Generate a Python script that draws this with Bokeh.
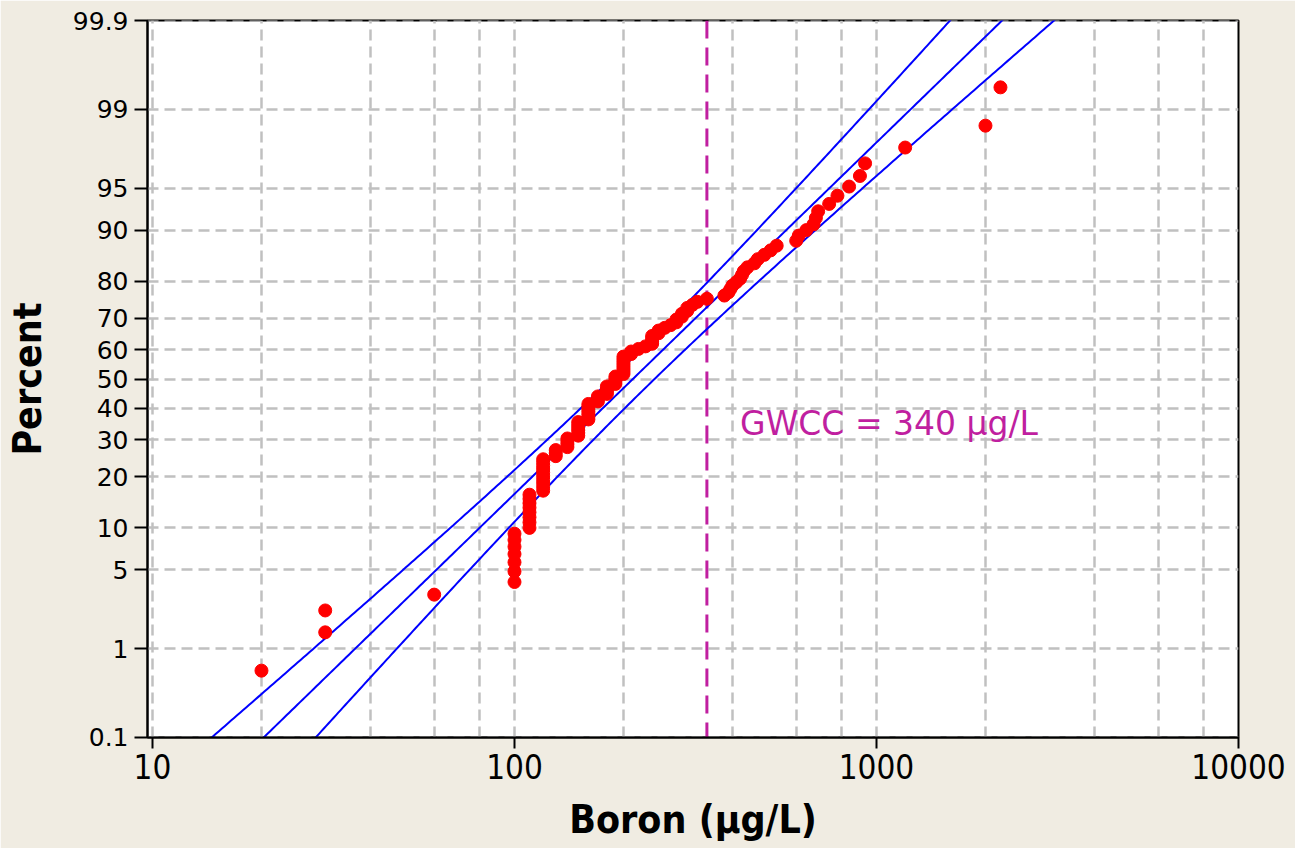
from statistics import NormalDist
import numpy as np
from bokeh.plotting import figure
from bokeh.models import (Range1d, FixedTicker, CustomJSTickFormatter,
                          PrintfTickFormatter, Span, Label, ColumnDataSource)
from bokeh.embed import file_html
from bokeh.resources import INLINE

# ---- data (sorted boron concentrations, ug/L) ----
boron_ugL = [
    20, 30, 30, 60,
    100, 100, 100, 100, 100, 100, 100,
    110, 110, 110, 110, 110, 110, 110, 110,
    120, 120, 120, 120, 120, 120, 120, 120, 120, 120,
    130, 130, 130,
    140, 140, 140, 140,
    150, 150, 150, 150, 150, 150,
    160, 160, 160, 160, 160, 160, 160,
    170, 170, 170,
    180, 180, 180, 180,
    190, 190, 190, 190,
    200, 200, 200, 200, 200, 200, 200, 200,
    210, 210, 220, 230,
    240, 240, 240, 240,
    250, 250, 260, 270, 280, 280, 290, 290,
    300, 300, 310, 320, 340,
    380, 390, 395, 400, 410, 420, 425, 430, 440, 460, 470, 490, 510, 530,
    600, 610, 640, 670, 680, 690, 740, 780, 840, 900, 930,
    1200, 2000, 2200,
]

pct_ticks = [0.1, 1, 5, 10, 20, 30, 40, 50, 60, 70, 80, 90, 95, 99, 99.9]
pct_tick_labels = ["0.1", "1", "5", "10", "20", "30", "40", "50", "60",
                   "70", "80", "90", "95", "99", "99.9"]
x_ticks = [10, 100, 1000, 10000]
x_grid_values = [10, 20, 40, 60, 80, 100, 200, 400, 600, 800, 1000,
                 2000, 4000, 6000, 8000, 10000]

gwcc_value = 340
gwcc_text = "GWCC = 340 µg/L"
gwcc_label_x = 420
gwcc_label_pct = 35.0

# lognormal fit (log10 scale)
fit_mu_log10 = 2.327
fit_sigma_log10 = 0.330
conf_level = 0.95

NARROW = "DejaVu Sans Condensed, Liberation Sans Narrow, Roboto"

# ---- transforms ----
nd = NormalDist()
n = len(boron_ugL)
ranks = np.arange(1, n + 1)
pct_points = (ranks - 0.3) / (n + 0.4) * 100.0          # median ranks
z_points = [nd.inv_cdf(q / 100.0) for q in pct_points]
z_ticks = [nd.inv_cdf(q / 100.0) for q in pct_ticks]
z_min, z_max = nd.inv_cdf(0.001) - 0.0005, nd.inv_cdf(0.999) + 0.0005

z_line = np.linspace(-3.4, 3.4, 300)
zc = nd.inv_cdf(0.5 + conf_level / 2)
center = fit_mu_log10 + z_line * fit_sigma_log10
half = zc * fit_sigma_log10 * np.sqrt((1 + z_line ** 2 / 2) / n)

p = figure(width=1295, height=848, x_axis_type="log",
           x_range=Range1d(9.687, 10000), y_range=Range1d(z_min, z_max),
           output_backend="svg", toolbar_location=None,
           min_border_left=147, min_border_right=57,
           min_border_top=20, min_border_bottom=111,
           border_fill_color="#F0ECE2", background_fill_color="white",
           outline_line_color="black", outline_line_width=2)

grid_color = "#C0C0C0"
p.xgrid.ticker = FixedTicker(ticks=x_grid_values)
p.ygrid.ticker = FixedTicker(ticks=z_ticks)
for g in (p.xgrid, p.ygrid):
    g.grid_line_color = grid_color
    g.grid_line_dash = "11 6"
    g.grid_line_width = 2.5

gw = Span(location=gwcc_value, dimension="height", line_color="#C01FA0",
          line_dash="18 9", line_width=3, level="underlay")
p.add_layout(gw)

for yy in (center - half, center, center + half):
    p.line(10 ** yy, z_line, line_color="#0000FF", line_width=2)

src = ColumnDataSource(dict(x=boron_ugL, y=z_points))
p.scatter("x", "y", source=src, size=13, fill_color="#FF0000",
          line_color="#FF0000")

p.add_layout(Label(x=gwcc_label_x, y=nd.inv_cdf(gwcc_label_pct / 100.0),
                   text=gwcc_text, text_font="DejaVu Sans",
                   text_font_size="33px", text_color="#C01FA0",
                   text_baseline="middle", text_align="left"))

# axes
xa = p.xaxis[0]
xa.ticker = FixedTicker(ticks=x_ticks)
xa.formatter = PrintfTickFormatter(format="%d")
xa.axis_label = "Boron (µg/L)"
xa.major_label_text_font = NARROW
xa.major_label_text_font_size = "33px"
xa.major_label_standoff = 5

ya = p.yaxis[0]
ya.ticker = FixedTicker(ticks=z_ticks)
ya.formatter = CustomJSTickFormatter(args=dict(zs=z_ticks, labels=pct_tick_labels), code="""
let best = 0;
for (let i = 0; i < zs.length; i++) {
  if (Math.abs(zs[i] - tick) < Math.abs(zs[best] - tick)) best = i;
}
return labels[best];
""")
ya.axis_label = "Percent"
ya.major_label_text_font = "DejaVu Sans"
ya.major_label_text_font_size = "25px"
ya.major_label_standoff = 6

for ax in (xa, ya):
    ax.axis_label_text_font = NARROW
    ax.axis_label_text_font_style = "bold"
    ax.axis_label_text_font_size = "39px"
    ax.axis_label_text_color = "black"
    ax.major_label_text_color = "black"
    ax.axis_line_color = "black"
    ax.axis_line_width = 2
    ax.major_tick_line_color = "black"
    ax.major_tick_line_width = 2
    ax.major_tick_in = 0
    ax.minor_tick_line_color = None
xa.major_tick_out = 11
ya.major_tick_out = 13
xa.axis_label_standoff = 15
ya.axis_label_standoff = 20

open("out.html", "w").write(file_html(p, INLINE))
